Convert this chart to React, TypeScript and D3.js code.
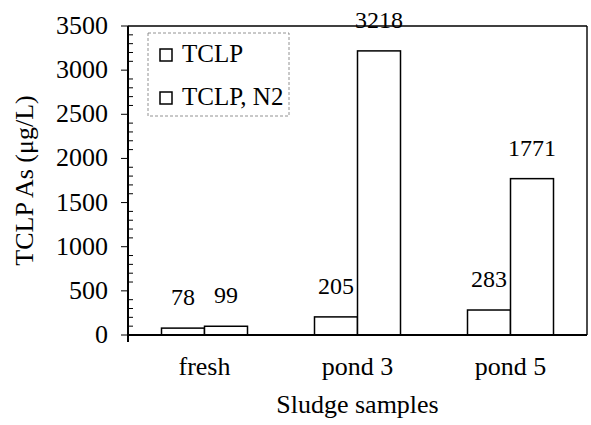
import * as d3 from 'd3';

// chart data
const categories = ['fresh', 'pond 3', 'pond 5'];
const seriesNames = ['TCLP', 'TCLP, N2'];
const tclp = [78, 205, 283];
const tclpN2 = [99, 3218, 1771];
const yTicks = [0, 500, 1000, 1500, 2000, 2500, 3000, 3500];

const W = 591;
const H = 425;
const margin = { top: 26, right: 4, bottom: 90, left: 128 };
const FONT = 'Liberation Serif';

export default function App() {
  const x = d3.scaleBand<string>()
    .domain(categories)
    .range([margin.left, W - margin.right]);

  const sub = d3.scaleBand<string>()
    .domain(seriesNames)
    .range([0, 86]);

  const y = d3.scaleLinear()
    .domain([0, 3500])
    .range([H - margin.bottom, margin.top]);

  const minorTicks = d3.range(0, 3501, 100).filter(v => v % 500 !== 0);
  const series = [tclp, tclpN2];
  const x0 = margin.left;
  const x1 = W - margin.right;
  const yBase = y(0);
  const yTop = y(3500);
  const txt = (fs: number) => ({ fontFamily: FONT, fontSize: fs });

  return (
    <svg width={W} height={H} style={{ position: 'absolute', left: 0, top: 0, background: '#fff' }}>
      {/* frame */}
      <line x1={x0} x2={x1} y1={yTop} y2={yTop} stroke="#000" strokeWidth={1.6} />
      <line x1={x1} x2={x1} y1={yTop} y2={yBase} stroke="#000" strokeWidth={1.4} />

      {/* bars */}
      {categories.map((c, ci) => {
        const gx = (x(c) ?? 0) + (x.bandwidth() - 86) / 2;
        return series.map((vals, si) => {
          const v = vals[ci];
          const bx = gx + (sub(seriesNames[si]) ?? 0);
          return (
            <g key={c + si}>
              <rect x={bx} y={y(v)} width={sub.bandwidth()} height={yBase - y(v)}
                fill="#fff" stroke="#000" strokeWidth={1.5} />
              <text x={bx + sub.bandwidth() / 2} y={y(v) - 23} textAnchor="middle" style={txt(24)}>
                {v}
              </text>
            </g>
          );
        });
      })}

      {/* y axis */}
      <line x1={x0} x2={x0} y1={yTop} y2={yBase + 7} stroke="#000" strokeWidth={2} />
      {yTicks.map(t => (
        <g key={t}>
          <line x1={x0 - 7} x2={x0} y1={y(t)} y2={y(t)} stroke="#000" strokeWidth={1} />
          <text x={x0 - 20} y={y(t) + 8} textAnchor="end" style={txt(26)}>{t}</text>
        </g>
      ))}
      {minorTicks.map(t => (
        <line key={t} x1={x0} x2={x0 + 5} y1={y(t)} y2={y(t)} stroke="#000" strokeWidth={1} />
      ))}

      {/* x axis */}
      <line x1={x0} x2={x1} y1={yBase} y2={yBase} stroke="#000" strokeWidth={2} />
      {categories.map(c => (
        <text key={c} x={(x(c) ?? 0) + x.bandwidth() / 2} y={375} textAnchor="middle" style={txt(26)}>
          {c}
        </text>
      ))}

      {/* axis titles */}
      <text x={(x0 + x1) / 2} y={413} textAnchor="middle" style={txt(26)}>Sludge samples</text>
      <text transform={`translate(33,${(yTop + yBase) / 2}) rotate(-90)`} textAnchor="middle" style={txt(26)}>
        TCLP As (μg/L)
      </text>

      {/* legend */}
      <rect x={148} y={33} width={141} height={83} fill="#fff" stroke="#777" strokeWidth={0.8}
        strokeDasharray="3,2" />
      {seriesNames.map((s, i) => (
        <g key={s} transform={`translate(160,${49 + i * 43})`}>
          <rect x={0} y={0} width={12} height={12} fill="#fff" stroke="#000" strokeWidth={1.5} />
          <text x={22} y={13} style={txt(25)}>{s}</text>
        </g>
      ))}
    </svg>
  );
}
